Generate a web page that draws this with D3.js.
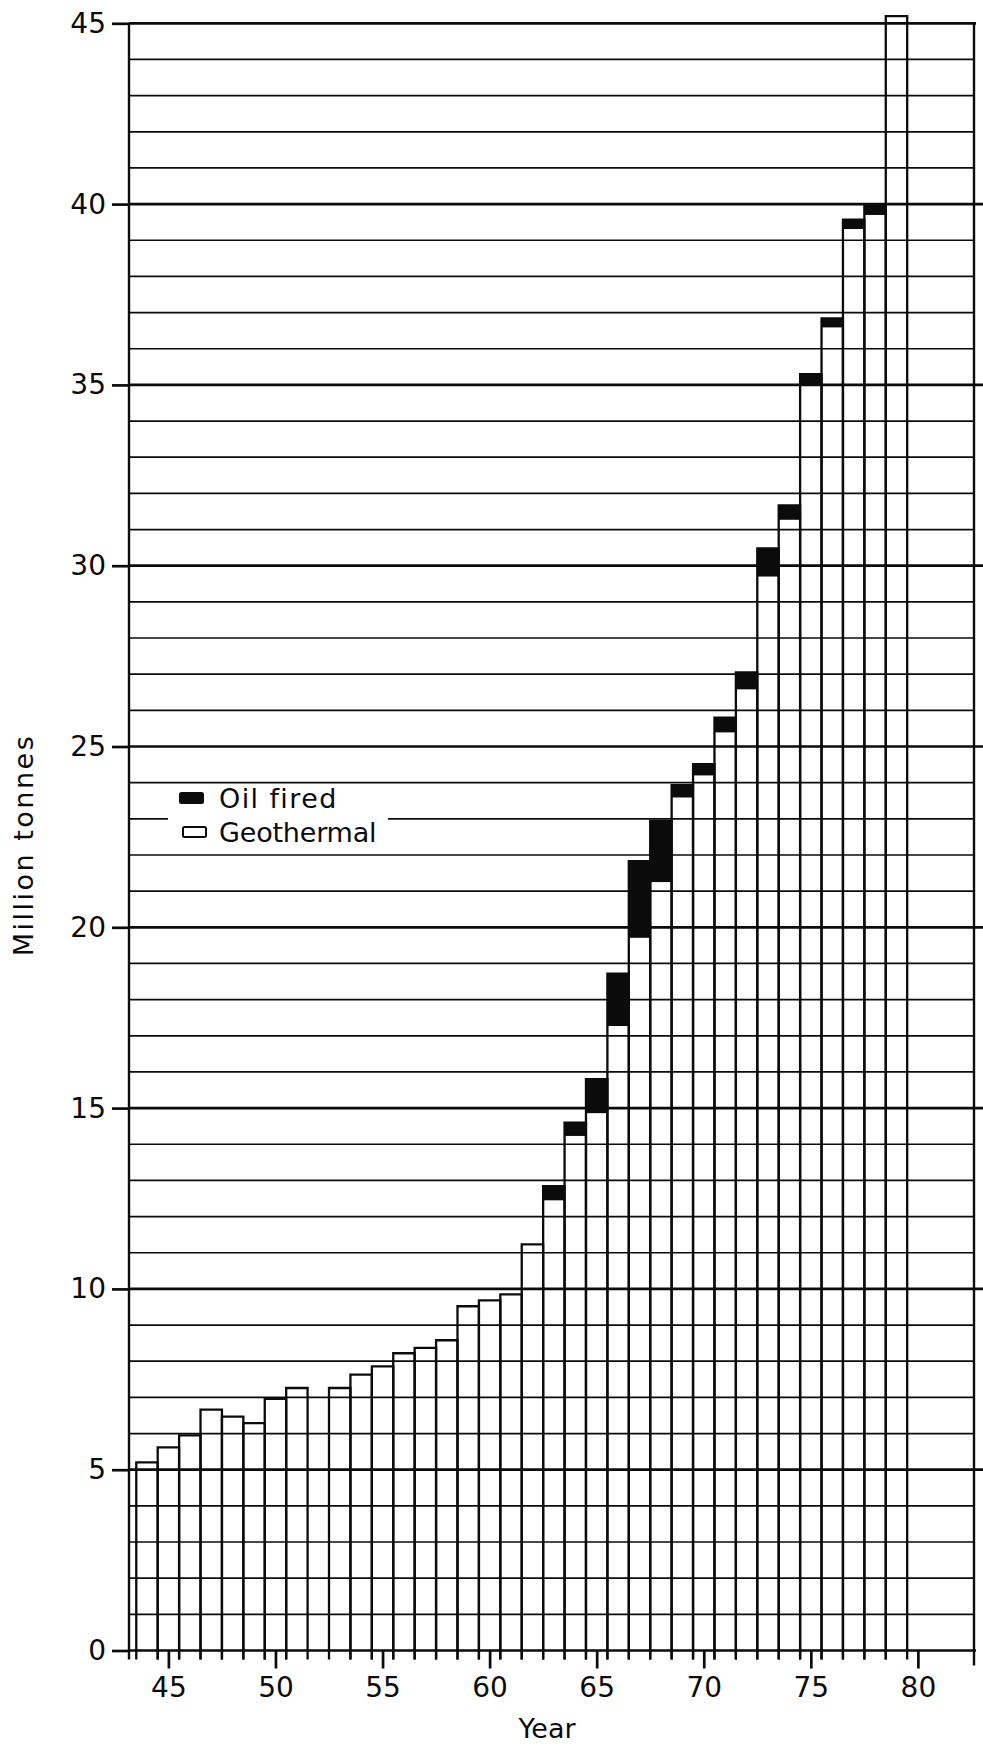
<!DOCTYPE html>
<html>
<head>
<meta charset="utf-8">
<script src="https://cdn.jsdelivr.net/npm/d3@7"></script>
<style>
  body { margin: 0; background: #fff; }
  svg { display: block; }
</style>
</head>
<body>
<div id="chart"></div>
<script>
// 年份 (19xx)
const years = [44, 45, 46, 47, 48, 49, 50, 51, 52, 53, 54, 55, 56, 57, 58, 59, 60, 61,
    62, 63, 64, 65, 66, 67, 68, 69, 70, 71, 72, 73, 74, 75, 76, 77, 78, 79]
// 地熱發電部分 (million tonnes)，52年原圖缺頂線
const geothermal = [5.2, 5.62, 5.95, 6.66, 6.47, 6.29, 6.96, 7.26, null, 7.26, 7.63, 7.86,
    8.22, 8.37, 8.58, 9.52, 9.68, 9.85, 11.23, 12.45, 14.23, 14.86, 17.27, 19.71, 21.25,
    23.59, 24.2, 25.39, 26.58, 29.7, 31.27, 35.02, 36.59, 39.31, 39.7, 45.2]
// 燃油部分，疊在地熱上面
const oilFired = [0, 0, 0, 0, 0, 0, 0, 0, 0, 0, 0, 0, 0, 0, 0, 0, 0, 0, 0,
    0.39, 0.37, 0.94, 1.45, 2.12, 1.69, 0.34, 0.31, 0.41, 0.47, 0.78, 0.4, 0.28, 0.25, 0.26, 0.3, 0]
// 刻度
const yMajorTicks = [0, 5, 10, 15, 20, 25, 30, 35, 40, 45]
const xMajorTicks = [45, 50, 55, 60, 65, 70, 75, 80]
const legendItems = ['Oil fired', 'Geothermal']

const W = 983
const H = 1746
const FONT = '"DejaVu Sans", sans-serif'
const INK = '#0b0b0b'

const svg = d3.select('#chart').append('svg').attr('width', W).attr('height', H)

const x = d3.scaleLinear().domain([43.16, 82.62]).range([129, 974])
const y = d3.scaleLinear().domain([0, 45]).range([1650.5, 23.3])

const rows = years.map((yr, i) => ({ year: yr, geo: geothermal[i], oil: oilFired[i] }))

const chart = {
    show: function () {
        this.drawGrid()
        this.drawLegend()
        this.drawBars()
        this.drawAxes()
    },

    // 網格線：每1單位細線，每5單位粗線
    drawGrid: function () {
        const minor = d3.range(1, 45).filter((v) => v % 5 != 0)
        svg.append('g')
            .selectAll('line')
            .data(minor)
            .enter()
            .append('line')
            .attr('x1', x.range()[0])
            .attr('x2', x.range()[1])
            .attr('y1', (d) => y(d))
            .attr('y2', (d) => y(d))
            .attr('stroke', INK)
            .attr('stroke-width', 1.7)

        svg.append('g')
            .selectAll('line')
            .data(yMajorTicks)
            .enter()
            .append('line')
            .attr('x1', x.range()[0])
            // 0 和 45 停在右框，其他延伸出去
            .attr('x2', (d) => (d == 0 || d == 45 ? x.range()[1] + 2 : W))
            .attr('y1', (d) => y(d))
            .attr('y2', (d) => y(d))
            .attr('stroke', INK)
            .attr('stroke-width', 2.7)

        // 右邊框
        svg.append('line')
            .attr('x1', x.range()[1])
            .attr('x2', x.range()[1])
            .attr('y1', y(45))
            .attr('y2', y(0) + 15)
            .attr('stroke', INK)
            .attr('stroke-width', 2.4)
    },

    // 圖例（白底遮住一段網格線）
    drawLegend: function () {
        const g = svg.append('g')
        g.append('rect')
            .attr('x', 168)
            .attr('y', 790)
            .attr('width', 220)
            .attr('height', 56)
            .attr('fill', '#fff')

        const item = g.selectAll('g')
            .data(legendItems)
            .enter()
            .append('g')
            .attr('transform', (d, i) => `translate(0, ${i * 34})`)

        item.append('rect')
            .attr('x', (d, i) => (i == 0 ? 180 : 183))
            .attr('y', 793)
            .attr('width', 23)
            .attr('height', 10)
            .attr('rx', 1.5)
            .attr('fill', (d, i) => (i == 0 ? INK : '#fff'))
            .attr('stroke', INK)
            .attr('stroke-width', 2)

        item.append('text')
            .attr('x', 219)
            .attr('y', 808)
            .attr('font-family', FONT)
            .attr('font-size', 27)
            .attr('letter-spacing', (d, i) => (i == 0 ? 1.4 : -0.2))
            .attr('fill', INK)
            .text((d) => d)
    },

    // 柱子：只畫外框，燃油部分填黑
    drawBars: function () {
        const base = y(0)
        const data = rows.filter((d) => d.geo != null)
        const left = (d) => x(Math.max(d.year - 0.5, x.domain()[0]))
        const right = (d) => x(d.year + 0.5)

        svg.append('g')
            .selectAll('path')
            .data(data)
            .enter()
            .append('path')
            // 兩側豎線延伸到軸下當小刻度
            .attr('d', (d) => `M${left(d)},${base + 9}V${y(d.geo + d.oil)}H${right(d)}V${base + 9}`)
            .attr('fill', 'none')
            .attr('stroke', INK)
            .attr('stroke-width', 2.3)

        svg.append('g')
            .selectAll('rect')
            .data(data.filter((d) => d.oil > 0))
            .enter()
            .append('rect')
            .attr('x', (d) => left(d))
            .attr('width', (d) => right(d) - left(d))
            .attr('y', (d) => y(d.geo + d.oil))
            .attr('height', (d) => y(d.geo) - y(d.geo + d.oil))
            .attr('fill', INK)
    },

    drawAxes: function () {
        // y軸
        const yAxis = d3.axisLeft(y).tickValues(yMajorTicks).tickSize(17).tickPadding(6)
        const gy = svg.append('g')
            .attr('transform', `translate(${x.range()[0]},0)`)
            .call(yAxis)
        gy.select('.domain').remove()
        gy.selectAll('line').attr('stroke', INK).attr('stroke-width', 2.7)
        gy.selectAll('text')
            .attr('font-family', FONT)
            .attr('font-size', 28)
            .attr('fill', INK)

        svg.append('line')
            .attr('x1', x.range()[0])
            .attr('x2', x.range()[0])
            .attr('y1', y(45))
            .attr('y2', y(0) + 9)
            .attr('stroke', INK)
            .attr('stroke-width', 2.4)

        // x軸
        const xAxis = d3.axisBottom(x).tickValues(xMajorTicks).tickSize(18).tickPadding(8.5)
        const gx = svg.append('g')
            .attr('transform', `translate(0,${y(0)})`)
            .call(xAxis)
        gx.select('.domain').remove()
        gx.selectAll('line').attr('stroke', INK).attr('stroke-width', 2.7)
        gx.selectAll('text')
            .attr('font-family', FONT)
            .attr('font-size', 28)
            .attr('fill', INK)

        // 軸標題
        svg.append('text')
            .attr('x', 547)
            .attr('y', 1738)
            .attr('text-anchor', 'middle')
            .attr('font-family', FONT)
            .attr('font-size', 27)
            .attr('fill', INK)
            .text('Year')

        svg.append('text')
            .attr('transform', 'translate(33,845) rotate(-90)')
            .attr('text-anchor', 'middle')
            .attr('font-family', FONT)
            .attr('font-size', 27)
            .attr('letter-spacing', 2.5)
            .attr('fill', INK)
            .text('Million tonnes')
    }
}

chart.show()
</script>
</body>
</html>
